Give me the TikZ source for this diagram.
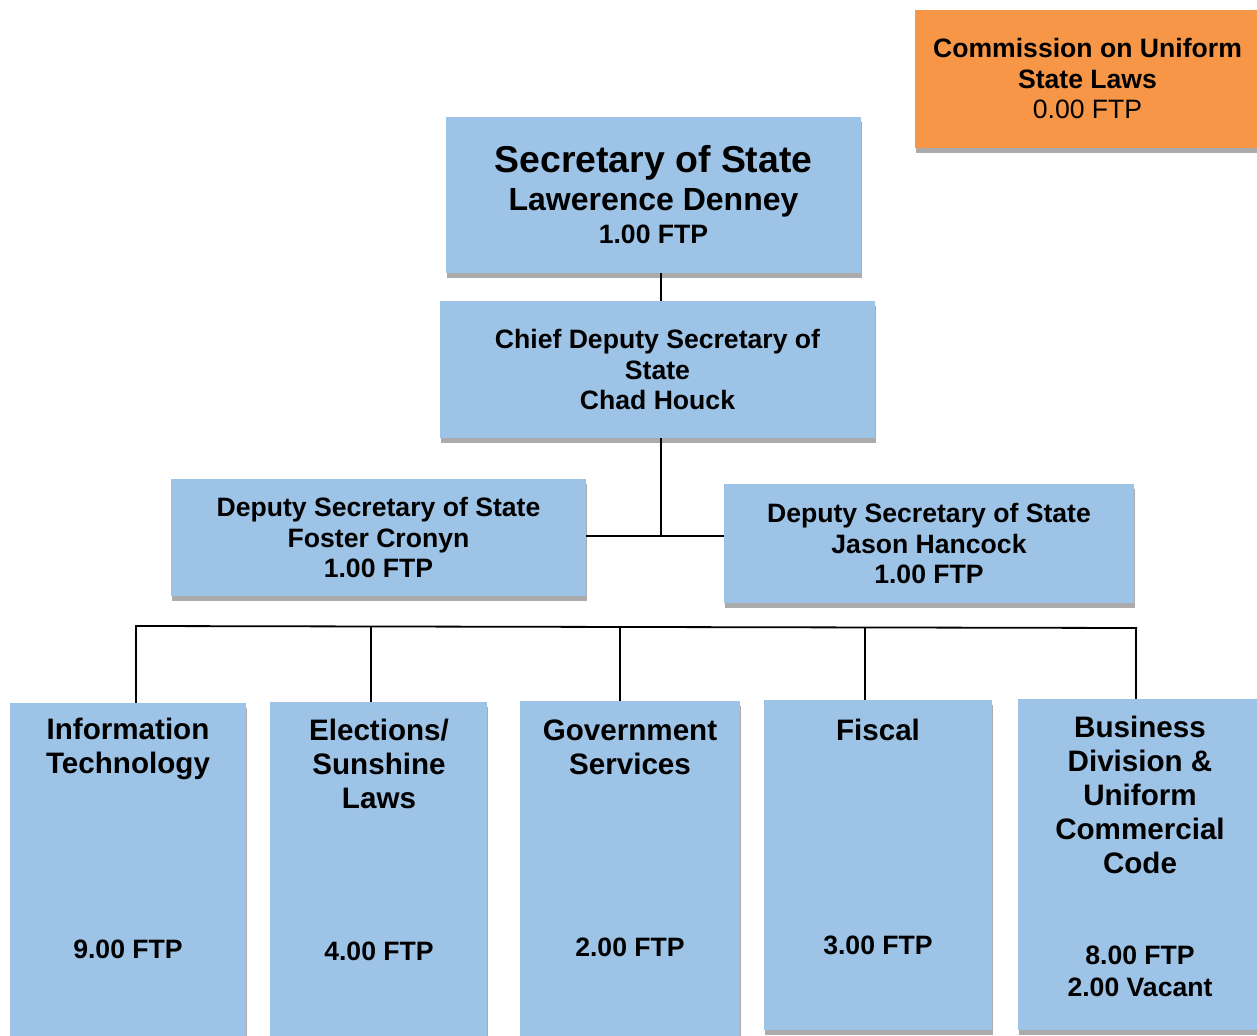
\documentclass[tikz,border=0pt]{standalone}
\usepackage{fontspec}
\setmainfont{Liberation Sans}
\usepackage{tikz}
\usetikzlibrary{shadows}
\definecolor{boxblue}{RGB}{157,195,230}
\definecolor{boxorange}{RGB}{247,150,70}
\definecolor{shadowgray}{RGB}{171,171,171}
\tikzset{
  unit/.style={rectangle,fill=boxblue,inner sep=0pt,
    drop shadow={shadow xshift=0.5pt,shadow yshift=-2.5pt,fill=shadowgray,opacity=1},
    align=center,font={\fontsize{13.3}{15.25}\selectfont\bfseries}},
  unittitle/.style={align=center,inner sep=0pt,font={\fontsize{14.8}{17}\selectfont\bfseries}},
  unitftp/.style={align=center,inner sep=0pt,font={\fontsize{13.3}{16}\selectfont\bfseries}},
  link/.style={line width=0.75pt}
}
\begin{document}
\begin{tikzpicture}[x=0.5pt,y=-0.5pt]
\useasboundingbox (0,0) rectangle (1257,1036);
\node[unit,fill=boxorange,minimum width=172.5pt,minimum height=69pt] (cusl) at (1087.5,79)
  {Commission on Uniform\\State Laws\\\mdseries 0.00 FTP};
\node[unit,minimum width=207.5pt,minimum height=78pt] (sos) at (653.5,195)
  {{\fontsize{18.7}{20}\selectfont Secretary of State}\\[3.5pt]{\fontsize{16}{17.5}\selectfont Lawerence Denney}\\[1.5pt]1.00 FTP};
\node[unit,minimum width=217.5pt,minimum height=68.5pt] (chief) at (657.5,369.5)
  {Chief Deputy Secretary of\\State\\Chad Houck};
\node[unit,minimum width=207.5pt,minimum height=58.5pt] (dl) at (378.5,537.5)
  {Deputy Secretary of State\\Foster Cronyn\\1.00 FTP};
\node[unit,minimum width=205pt,minimum height=59.5pt] (dr) at (929,543.5)
  {Deputy Secretary of State\\Jason Hancock\\1.00 FTP};
\node[unit,minimum width=118pt,minimum height=168.5pt] (it) at (128,871.5) {};
\node[unit,minimum width=108.5pt,minimum height=169pt] (el) at (378.5,871) {};
\node[unit,minimum width=110pt,minimum height=169.5pt] (gs) at (630,870.5) {};
\node[unit,minimum width=114pt,minimum height=165pt] (fi) at (878,865) {};
\node[unit,minimum width=121pt,minimum height=165.5pt] (bu) at (1139,864.5) {};
\node[unittitle] (ittitle) at (128,749) {Information\\Technology};
\node[unittitle] (eltitle) at (379,764) {Elections/\\Sunshine\\Laws};
\node[unittitle] (gstitle) at (630,747) {Government\\Services};
\node[unittitle] (fititle) at (878,730) {Fiscal};
\node[unittitle] (butitle) at (1140,795) {Business\\Division \&\\Uniform\\Commercial\\Code};
\node[unitftp] (itftp) at (128,949) {9.00 FTP};
\node[unitftp] (elftp) at (379,951) {4.00 FTP};
\node[unitftp] (gsftp) at (630,947) {2.00 FTP};
\node[unitftp] (fiftp) at (878,945) {3.00 FTP};
\node[unitftp] (buftp) at (1140,971) {8.00 FTP\\2.00 Vacant};
\coordinate (mid) at (661,536);
\draw[link] (sos.south -| mid) -- (chief.north -| mid);
\draw[link] (chief.south -| mid) -- (mid);
\draw[link] (dl.east |- mid) -- (dr.west |- mid);
\coordinate (busl) at (135,626);
\coordinate (busr) at (1137,628);
\draw[link,line width=0.9pt] (busl) -- (busr);
\draw[link] (136,627) -- (136,627 |- it.north);
\draw[link] (371,627) -- (371,627 |- el.north);
\draw[link] (620,628) -- (620,628 |- gs.north);
\draw[link] (865,628) -- (865,628 |- fi.north);
\draw[link] (1136,628) -- (1136,628 |- bu.north);
\end{tikzpicture}
\end{document}
